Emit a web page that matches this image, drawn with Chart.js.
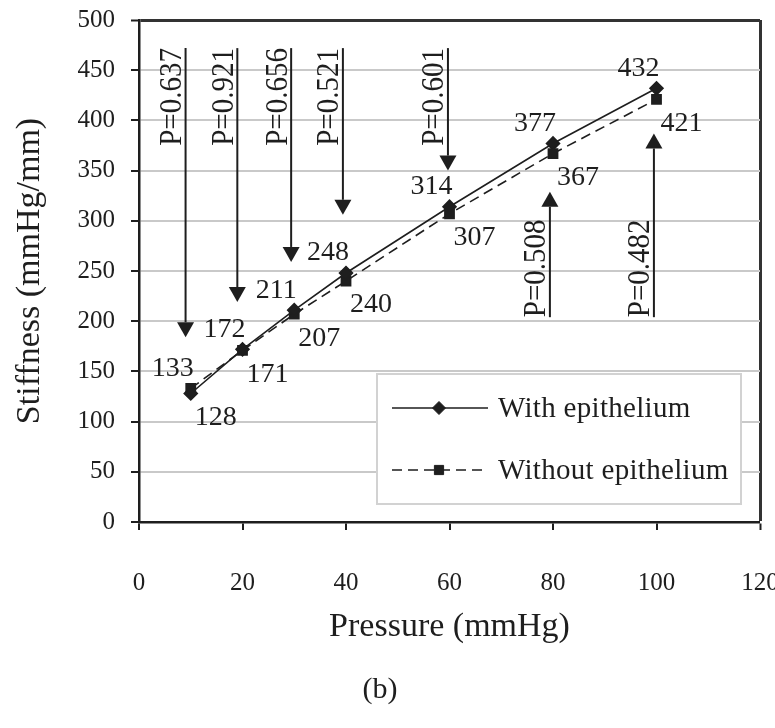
<!DOCTYPE html>
<html>
<head>
<meta charset="utf-8">
<title>Stiffness vs Pressure</title>
<script src="https://cdn.jsdelivr.net/npm/chart.js@4.4.1/dist/chart.umd.min.js"></script>
<style>
  html, body { margin: 0; padding: 0; background: #fff; }
  #wrap { width: 775px; height: 728px; }
</style>
</head>
<body>
<div id="wrap"><canvas id="c" width="775" height="728"></canvas></div>
<script>
// Pressure levels (mmHg) and measured stiffness (mmHg/mm)
const pressure = [10, 20, 30, 40, 60, 80, 100];
const withEpithelium = [128, 172, 211, 248, 314, 377, 432];
const withoutEpithelium = [133, 171, 207, 240, 307, 367, 421];
const seriesNames = ['With epithelium', 'Without epithelium'];

// Significance annotations: arrow x (mmHg), arrow start / tip (mmHg/mm), p-value
const pArrowX = [9, 19, 29.4, 39.4, 59.7, 79.4, 99.5];
const pArrowFrom = [472, 472, 472, 472, 472, 204, 204];
const pArrowTo = [184, 219, 259, 306, 350, 329, 387];
const pLabels = ['P=0.637', 'P=0.921', 'P=0.656', 'P=0.521', 'P=0.601', 'P=0.508', 'P=0.482'];

const xTicks = [0, 20, 40, 60, 80, 100, 120];

const SERIF = '"Liberation Serif", "Times New Roman", serif';
const INK = '#1e1e1e';

const toXY = (vals) => vals.map((v, i) => ({ x: pressure[i], y: v }));

// Value labels: the higher of the two series is labelled above-left, the lower below-right
const valueLabels = {
  id: 'valueLabels',
  afterDatasetsDraw(chart) {
    const { ctx } = chart;
    const series = chart.data.datasets.map(d => d.data);
    ctx.save();
    ctx.font = '28px ' + SERIF;
    ctx.fillStyle = INK;
    ctx.textAlign = 'center';
    ctx.textBaseline = 'middle';
    series.forEach((data, si) => {
      const meta = chart.getDatasetMeta(si);
      data.forEach((pt, i) => {
        const other = series[1 - si][i].y;
        const el = meta.data[i];
        const above = pt.y >= other;
        const dx = above ? -18 : 25;
        const dy = above ? -20 : 24;
        ctx.fillText(String(pt.y), el.x + dx, el.y + dy);
      });
    });
    ctx.restore();
  }
};

// Arrows carrying the p-values
const pArrows = {
  id: 'pArrows',
  afterDatasetsDraw(chart) {
    const { ctx, scales } = chart;
    const xs = scales.x, ys = scales.y;
    ctx.save();
    ctx.strokeStyle = INK;
    ctx.fillStyle = INK;
    ctx.lineWidth = 2;
    pArrowX.forEach((xv, i) => {
      const px = xs.getPixelForValue(xv);
      const y0 = ys.getPixelForValue(pArrowFrom[i]);
      const y1 = ys.getPixelForValue(pArrowTo[i]);
      const down = y1 > y0;
      const head = 15, half = 8.5;
      const baseY = down ? y1 - head : y1 + head;
      ctx.beginPath();
      ctx.moveTo(px, y0);
      ctx.lineTo(px, baseY);
      ctx.stroke();
      ctx.beginPath();
      ctx.moveTo(px - half, baseY);
      ctx.lineTo(px + half, baseY);
      ctx.lineTo(px, y1);
      ctx.closePath();
      ctx.fill();

      ctx.save();
      ctx.translate(px - 13, y0);
      ctx.rotate(-Math.PI / 2);
      ctx.scale(1, 1.12);
      ctx.font = '29px ' + SERIF;
      ctx.textBaseline = 'middle';
      ctx.textAlign = down ? 'right' : 'left';
      ctx.fillText(pLabels[i], 0, 0);
      ctx.restore();
    });
    ctx.restore();
  }
};

// Boxed legend sitting inside the plot area
const boxedLegend = {
  id: 'boxedLegend',
  afterDatasetsDraw(chart) {
    const { ctx, chartArea } = chart;
    const boxL = chartArea.left + 238, boxT = chartArea.top + 354;
    const boxW = 364, boxH = 130;
    ctx.save();
    ctx.fillStyle = '#fff';
    ctx.fillRect(boxL, boxT, boxW, boxH);
    ctx.strokeStyle = '#d2d2d2';
    ctx.lineWidth = 2;
    ctx.strokeRect(boxL, boxT, boxW, boxH);
    chart.data.datasets.forEach((ds, i) => {
      const cy = boxT + 34 + i * 62;
      const x0 = boxL + 15, x1 = boxL + 111, mx = boxL + 62;
      ctx.strokeStyle = ds.borderColor;
      ctx.lineWidth = ds.borderWidth;
      ctx.setLineDash(ds.borderDash || []);
      ctx.beginPath();
      ctx.moveTo(x0, cy);
      ctx.lineTo(x1, cy);
      ctx.stroke();
      ctx.setLineDash([]);
      ctx.fillStyle = ds.pointBackgroundColor;
      ctx.strokeStyle = ds.pointBorderColor;
      ctx.lineWidth = 1;
      Chart.helpers.drawPoint(ctx, {
        pointStyle: ds.pointStyle,
        radius: ds.pointRadius,
        borderWidth: 1,
        rotation: 0
      }, mx, cy);
      ctx.fillStyle = INK;
      ctx.font = '29px ' + SERIF;
      if ('letterSpacing' in ctx) ctx.letterSpacing = '0.3px';
      ctx.textAlign = 'left';
      ctx.textBaseline = 'middle';
      ctx.fillText(ds.label, boxL + 121, cy + 1);
      if ('letterSpacing' in ctx) ctx.letterSpacing = '0px';
    });
    ctx.restore();
  }
};

const ctx = document.getElementById('c').getContext('2d');

new Chart(ctx, {
  type: 'line',
  data: {
    datasets: [
      {
        label: seriesNames[0],
        data: toXY(withEpithelium),
        borderColor: INK,
        backgroundColor: INK,
        borderWidth: 1.6,
        pointStyle: 'rectRot',
        pointRadius: 6.5,
        pointBackgroundColor: INK,
        pointBorderColor: INK,
        fill: false,
        tension: 0
      },
      {
        label: seriesNames[1],
        data: toXY(withoutEpithelium),
        borderColor: INK,
        backgroundColor: INK,
        borderWidth: 1.6,
        borderDash: [10, 6],
        pointStyle: 'rect',
        pointRadius: 6.5,
        pointBackgroundColor: INK,
        pointBorderColor: INK,
        fill: false,
        tension: 0
      }
    ]
  },
  options: {
    responsive: false,
    animation: false,
    devicePixelRatio: 1,
    layout: { padding: { left: 0, top: 20, right: 15, bottom: 0 } },
    plugins: {
      legend: { display: false },
      tooltip: { enabled: false },
      title: {
        display: true,
        position: 'bottom',
        text: '(b)',
        color: INK,
        font: { family: SERIF, size: 30, weight: 'normal' },
        padding: { top: 0, bottom: 20 }
      }
    },
    scales: {
      x: {
        type: 'linear',
        min: 0,
        max: 120,
        afterBuildTicks(scale) { scale.ticks = xTicks.map(v => ({ value: v })); },
        afterFit(scale) {
          scale.height = 150;
          scale.paddingLeft = 0;
          scale.paddingRight = 0;
        },
        ticks: {
          color: INK,
          font: { family: SERIF, size: 25 },
          padding: 38,
          maxRotation: 0,
          autoSkip: false
        },
        grid: {
          color: (c) => (c.tick && c.tick.value === 120 ? '#333' : 'rgba(0,0,0,0)'),
          lineWidth: (c) => (c.tick && c.tick.value === 120 ? 3 : 0),
          tickColor: INK,
          tickLength: 8,
          tickWidth: 2
        },
        border: { color: INK, width: 2.5 },
        title: {
          display: true,
          text: 'Pressure (mmHg)',
          color: INK,
          font: { family: SERIF, size: 34 },
          padding: { top: 0, bottom: 25 }
        }
      },
      y: {
        min: 0,
        max: 500,
        afterFit(scale) {
          scale.width = 139;
          scale.paddingTop = 0;
          scale.paddingBottom = 0;
        },
        ticks: {
          stepSize: 50,
          color: INK,
          font: { family: SERIF, size: 25 },
          padding: 16
        },
        grid: {
          color: (c) => (c.tick && c.tick.value === 500 ? '#333' : '#c9c9c9'),
          lineWidth: (c) => (c.tick && c.tick.value === 500 ? 3 : 2),
          tickColor: INK,
          tickLength: 8,
          tickWidth: 2
        },
        border: { color: INK, width: 2.5 },
        title: {
          display: true,
          text: 'Stiffness (mmHg/mm)',
          color: INK,
          font: { family: SERIF, size: 34 },
          padding: { top: 10, bottom: 0 }
        }
      }
    }
  },
  plugins: [pArrows, boxedLegend, valueLabels]
});
</script>
</body>
</html>
